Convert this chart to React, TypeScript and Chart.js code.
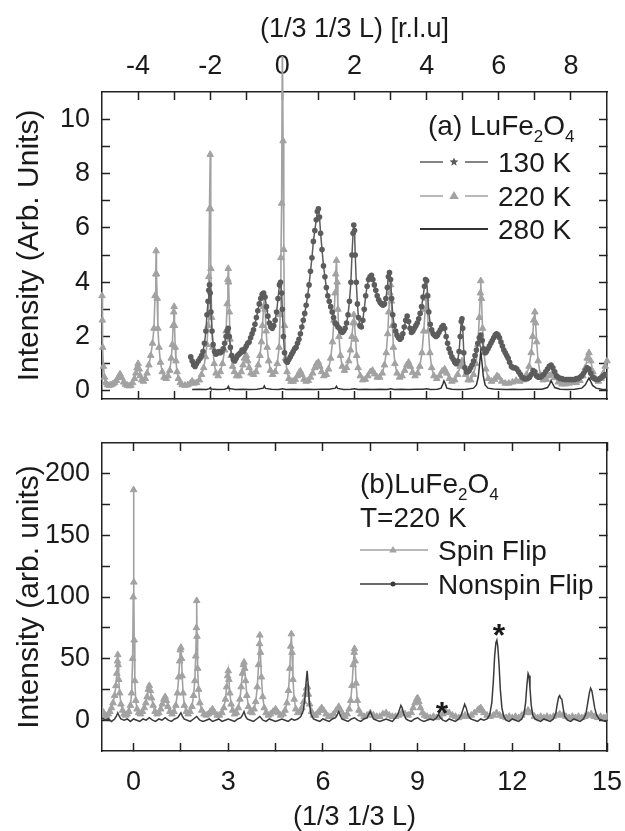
import React, { useEffect, useRef } from 'react';
import { Chart, registerables } from 'chart.js';

Chart.register(...registerables);

type P = [number, number];

// ---------- Panel (a): intensity vs (1/3 1/3 L) ----------
const S130: P[] = [
  [-2.54, 1.25], [-2.5, 1.1], [-2.46, 0.95], [-2.42, 0.9], [-2.38, 1.0], [-2.33, 1.1], [-2.28, 1.2], [-2.24, 1.3],
  [-2.2, 1.45], [-2.16, 1.75], [-2.12, 2.2], [-2.09, 2.8], [-2.06, 3.3], [-2.04, 3.7], [-2.02, 3.9], [-2.0, 3.6],
  [-1.98, 2.9], [-1.95, 2.2], [-1.92, 1.7], [-1.88, 1.45], [-1.84, 1.35], [-1.8, 1.4], [-1.76, 1.45], [-1.72, 1.4],
  [-1.68, 1.45], [-1.64, 1.55], [-1.6, 1.75], [-1.56, 2.0], [-1.53, 2.2], [-1.5, 2.3], [-1.47, 2.0], [-1.44, 1.6],
  [-1.4, 1.3], [-1.36, 1.15], [-1.32, 1.1], [-1.28, 1.2], [-1.24, 1.3], [-1.2, 1.35], [-1.16, 1.4], [-1.12, 1.5],
  [-1.08, 1.45], [-1.04, 1.55], [-1.0, 1.65], [-0.96, 1.75], [-0.92, 1.8], [-0.88, 1.95], [-0.84, 2.1], [-0.8, 2.25],
  [-0.76, 2.45], [-0.72, 2.7], [-0.68, 2.95], [-0.64, 3.2], [-0.6, 3.4], [-0.56, 3.55], [-0.52, 3.6], [-0.48, 3.45],
  [-0.44, 3.1], [-0.4, 2.75], [-0.36, 2.5], [-0.32, 2.35], [-0.28, 2.3], [-0.24, 2.4], [-0.2, 2.6], [-0.16, 2.9],
  [-0.12, 3.4], [-0.08, 3.9], [-0.05, 4.0], [-0.02, 3.6], [0.0, 3.0], [0.03, 2.0], [0.06, 1.4], [0.1, 1.1],
  [0.14, 1.05], [0.18, 1.15], [0.22, 1.25], [0.26, 1.35], [0.3, 1.45], [0.34, 1.55], [0.38, 1.6], [0.42, 1.75],
  [0.46, 1.9], [0.5, 2.1], [0.54, 2.35], [0.58, 2.6], [0.62, 2.85], [0.66, 3.15], [0.7, 3.5], [0.74, 3.9],
  [0.78, 4.4], [0.82, 4.9], [0.86, 5.5], [0.9, 5.9], [0.94, 6.3], [0.97, 6.6], [1.0, 6.7], [1.03, 6.4],
  [1.06, 5.8], [1.1, 5.2], [1.14, 4.6], [1.18, 4.2], [1.22, 3.8], [1.26, 3.5], [1.3, 3.3], [1.34, 3.1],
  [1.38, 2.9], [1.42, 2.7], [1.46, 2.5], [1.5, 2.45], [1.54, 2.35], [1.58, 2.3], [1.62, 2.2], [1.66, 2.15],
  [1.7, 2.2], [1.74, 2.3], [1.78, 2.5], [1.82, 2.8], [1.86, 3.3], [1.9, 4.0], [1.93, 5.0], [1.96, 5.8],
  [1.98, 6.1], [2.0, 5.9], [2.02, 5.0], [2.05, 4.0], [2.08, 3.2], [2.11, 2.7], [2.15, 2.4], [2.19, 2.35],
  [2.23, 2.6], [2.27, 3.0], [2.31, 3.5], [2.35, 3.85], [2.39, 4.1], [2.43, 4.2], [2.47, 4.25], [2.51, 4.1],
  [2.55, 3.9], [2.59, 3.7], [2.63, 3.5], [2.67, 3.35], [2.71, 3.25], [2.75, 3.2], [2.79, 3.15], [2.83, 3.2],
  [2.87, 3.4], [2.91, 3.8], [2.94, 4.2], [2.97, 4.35], [3.0, 4.1], [3.03, 3.4], [3.06, 2.8], [3.1, 2.4],
  [3.14, 2.2], [3.18, 2.05], [3.22, 1.95], [3.26, 1.9], [3.3, 1.95], [3.34, 2.1], [3.38, 2.35], [3.42, 2.6],
  [3.46, 2.75], [3.5, 2.55], [3.54, 2.3], [3.58, 2.15], [3.62, 2.2], [3.66, 2.3], [3.7, 2.4], [3.74, 2.5],
  [3.78, 2.65], [3.82, 2.85], [3.86, 3.1], [3.9, 3.45], [3.94, 3.85], [3.97, 4.1], [4.0, 4.05], [4.03, 3.5],
  [4.06, 2.9], [4.1, 2.45], [4.14, 2.25], [4.18, 2.1], [4.22, 2.05], [4.26, 2.0], [4.3, 2.05], [4.34, 2.15],
  [4.38, 2.25], [4.42, 2.35], [4.46, 2.4], [4.5, 2.3], [4.54, 2.0], [4.58, 1.75], [4.62, 1.55], [4.66, 1.4],
  [4.7, 1.25], [4.74, 1.15], [4.78, 1.05], [4.82, 1.0], [4.86, 1.1], [4.9, 1.45], [4.93, 2.0], [4.96, 2.55],
  [4.98, 2.65], [5.0, 2.3], [5.03, 1.4], [5.06, 0.85], [5.1, 0.7], [5.14, 0.7], [5.18, 0.75], [5.22, 0.85],
  [5.26, 0.95], [5.3, 1.1], [5.34, 1.3], [5.38, 1.5], [5.42, 1.75], [5.46, 1.95], [5.5, 2.05], [5.54, 1.85],
  [5.58, 1.55], [5.62, 1.4], [5.66, 1.45], [5.7, 1.55], [5.74, 1.65], [5.78, 1.75], [5.82, 1.85], [5.86, 1.95],
  [5.9, 2.05], [5.94, 2.1], [5.98, 2.05], [6.02, 1.95], [6.06, 1.8], [6.1, 1.65], [6.14, 1.5], [6.18, 1.4],
  [6.22, 1.3], [6.26, 1.2], [6.3, 1.05], [6.35, 0.9], [6.4, 0.85], [6.45, 0.85], [6.5, 0.8], [6.55, 0.7],
  [6.6, 0.6], [6.65, 0.5], [6.7, 0.45], [6.75, 0.45], [6.8, 0.45], [6.85, 0.5], [6.9, 0.6], [6.95, 0.75],
  [7.0, 0.7], [7.05, 0.55], [7.1, 0.5], [7.15, 0.5], [7.2, 0.55], [7.25, 0.6], [7.3, 0.7], [7.35, 0.8],
  [7.4, 0.9], [7.45, 0.95], [7.5, 0.85], [7.55, 0.7], [7.6, 0.55], [7.65, 0.5], [7.7, 0.45], [7.75, 0.45],
  [7.8, 0.42], [7.85, 0.42], [7.9, 0.42], [7.95, 0.42], [8.0, 0.42], [8.05, 0.42], [8.1, 0.42], [8.15, 0.45],
  [8.2, 0.45], [8.25, 0.5], [8.3, 0.55], [8.35, 0.65], [8.4, 0.75], [8.45, 0.85], [8.5, 0.8], [8.55, 0.65],
  [8.6, 0.5], [8.65, 0.45], [8.7, 0.42], [8.75, 0.42], [8.8, 0.45], [8.85, 0.5], [8.9, 0.55], [8.95, 0.6],
  [9.0, 0.6],
];

const S220: P[] = [
  [-5.0, 3.5], [-4.99, 2.6], [-4.98, 1.6], [-4.96, 0.9], [-4.93, 0.5], [-4.9, 0.3], [-4.85, 0.22], [-4.8, 0.2],
  [-4.75, 0.22], [-4.7, 0.25], [-4.65, 0.3], [-4.6, 0.38], [-4.55, 0.5], [-4.5, 0.62], [-4.45, 0.48], [-4.4, 0.32],
  [-4.35, 0.24], [-4.3, 0.2], [-4.25, 0.18], [-4.2, 0.2], [-4.15, 0.3], [-4.1, 0.45], [-4.06, 0.65], [-4.03, 0.85],
  [-4.0, 1.0], [-3.97, 0.8], [-3.94, 0.55], [-3.9, 0.4], [-3.85, 0.35], [-3.8, 0.45], [-3.75, 0.65], [-3.7, 0.95],
  [-3.65, 1.3], [-3.6, 1.75], [-3.56, 2.3], [-3.53, 3.5], [-3.51, 4.3], [-3.5, 5.15], [-3.49, 4.3], [-3.47, 3.4],
  [-3.45, 2.3], [-3.42, 1.6], [-3.38, 1.05], [-3.33, 0.7], [-3.28, 0.5], [-3.22, 0.45], [-3.17, 0.55], [-3.12, 0.75],
  [-3.08, 1.2], [-3.05, 1.7], [-3.03, 2.4], [-3.01, 2.9], [-3.0, 3.1], [-2.99, 2.4], [-2.97, 1.6], [-2.95, 1.1],
  [-2.92, 0.7], [-2.88, 0.45], [-2.83, 0.3], [-2.78, 0.22], [-2.7, 0.2], [-2.62, 0.22], [-2.55, 0.28], [-2.5, 0.35],
  [-2.45, 0.28], [-2.38, 0.3], [-2.3, 0.4], [-2.24, 0.6], [-2.18, 0.85], [-2.13, 1.25], [-2.09, 1.7], [-2.06, 2.4],
  [-2.04, 4.2], [-2.02, 6.7], [-2.0, 8.7], [-1.99, 6.7], [-1.98, 4.5], [-1.96, 2.7], [-1.93, 1.6], [-1.89, 1.0],
  [-1.84, 0.65], [-1.78, 0.55], [-1.72, 0.7], [-1.66, 1.0], [-1.6, 1.5], [-1.56, 2.2], [-1.53, 3.2], [-1.51, 4.1],
  [-1.5, 4.5], [-1.49, 4.0], [-1.47, 2.9], [-1.45, 1.9], [-1.42, 1.3], [-1.38, 0.9], [-1.33, 0.7], [-1.27, 0.55],
  [-1.2, 0.55], [-1.14, 0.7], [-1.09, 0.95], [-1.05, 1.2], [-1.0, 1.3], [-0.96, 1.1], [-0.92, 0.85], [-0.87, 0.65],
  [-0.8, 0.6], [-0.73, 0.7], [-0.67, 0.95], [-0.62, 1.3], [-0.58, 1.8], [-0.55, 2.4], [-0.52, 3.1], [-0.5, 3.5],
  [-0.48, 3.0], [-0.45, 2.2], [-0.42, 1.6], [-0.38, 1.1], [-0.33, 0.75], [-0.27, 0.6], [-0.2, 0.7], [-0.14, 1.0],
  [-0.09, 1.6], [-0.06, 2.8], [-0.04, 4.9], [-0.02, 6.9], [0.0, 13.0], [0.02, 9.2], [0.04, 5.2], [0.06, 2.4],
  [0.09, 1.2], [0.13, 0.7], [0.18, 0.45], [0.24, 0.35], [0.3, 0.35], [0.36, 0.42], [0.42, 0.55], [0.47, 0.68],
  [0.5, 0.72], [0.54, 0.6], [0.6, 0.42], [0.66, 0.35], [0.72, 0.38], [0.78, 0.5], [0.84, 0.65], [0.9, 0.85],
  [0.95, 1.0], [1.0, 1.05], [1.04, 0.9], [1.09, 0.7], [1.15, 0.55], [1.22, 0.6], [1.28, 0.8], [1.34, 1.2],
  [1.39, 1.8], [1.43, 2.6], [1.46, 3.6], [1.48, 4.3], [1.5, 4.8], [1.52, 4.0], [1.54, 3.0], [1.57, 2.0],
  [1.61, 1.3], [1.66, 0.9], [1.72, 0.75], [1.78, 0.85], [1.84, 1.1], [1.89, 1.5], [1.93, 2.0], [1.96, 2.5],
  [1.98, 2.8], [2.0, 2.5], [2.03, 1.9], [2.06, 1.3], [2.1, 0.85], [2.16, 0.55], [2.23, 0.4], [2.3, 0.42],
  [2.37, 0.55], [2.44, 0.7], [2.5, 0.75], [2.56, 0.62], [2.63, 0.5], [2.7, 0.5], [2.77, 0.65], [2.83, 0.95],
  [2.88, 1.4], [2.92, 2.1], [2.95, 2.9], [2.98, 3.6], [3.0, 3.9], [3.02, 3.3], [3.05, 2.4], [3.08, 1.6],
  [3.12, 1.0], [3.18, 0.65], [3.25, 0.5], [3.32, 0.55], [3.39, 0.75], [3.45, 0.95], [3.5, 1.05], [3.55, 0.9],
  [3.61, 0.68], [3.68, 0.55], [3.75, 0.65], [3.81, 0.9], [3.87, 1.4], [3.92, 2.2], [3.96, 3.0], [3.98, 3.4],
  [4.0, 3.5], [4.02, 3.0], [4.05, 2.2], [4.09, 1.4], [4.14, 0.85], [4.2, 0.55], [4.28, 0.45], [4.36, 0.55],
  [4.43, 0.72], [4.5, 0.8], [4.56, 0.65], [4.63, 0.45], [4.7, 0.35], [4.78, 0.4], [4.86, 0.6], [4.93, 0.9],
  [4.98, 1.1], [5.02, 0.95], [5.08, 0.6], [5.15, 0.4], [5.22, 0.4], [5.3, 0.6], [5.37, 1.0], [5.42, 1.7],
  [5.46, 2.7], [5.49, 3.6], [5.5, 4.05], [5.52, 3.4], [5.55, 2.3], [5.59, 1.4], [5.64, 0.8], [5.71, 0.45],
  [5.8, 0.35], [5.88, 0.42], [5.95, 0.55], [6.0, 0.5], [6.08, 0.35], [6.18, 0.28], [6.28, 0.28], [6.38, 0.32],
  [6.48, 0.38], [6.58, 0.35], [6.68, 0.4], [6.77, 0.6], [6.84, 0.9], [6.9, 1.4], [6.94, 2.0], [6.97, 2.6],
  [7.0, 2.9], [7.02, 2.5], [7.05, 1.8], [7.09, 1.1], [7.15, 0.6], [7.23, 0.4], [7.32, 0.42], [7.4, 0.55],
  [7.47, 0.62], [7.55, 0.48], [7.65, 0.32], [7.75, 0.25], [7.85, 0.25], [7.95, 0.28], [8.05, 0.3], [8.15, 0.3],
  [8.25, 0.38], [8.33, 0.55], [8.4, 0.85], [8.45, 1.2], [8.5, 1.4], [8.55, 1.1], [8.61, 0.7], [8.68, 0.45],
  [8.76, 0.35], [8.84, 0.45], [8.9, 0.65], [8.95, 0.9], [9.0, 1.1],
];

const S280: P[] = [
  [-2.5, 0.05], [-2.3, 0.06], [-2.1, 0.05], [-2.02, 0.08], [-2.0, 0.12], [-1.98, 0.07], [-1.8, 0.05], [-1.6, 0.06],
  [-1.52, 0.1], [-1.5, 0.16], [-1.48, 0.09], [-1.3, 0.05], [-1.1, 0.06], [-0.9, 0.05], [-0.7, 0.06], [-0.53, 0.1],
  [-0.5, 0.18], [-0.47, 0.09], [-0.3, 0.06], [-0.1, 0.05], [0.0, 0.08], [0.1, 0.05], [0.3, 0.06], [0.5, 0.05],
  [0.7, 0.06], [0.9, 0.05], [1.1, 0.06], [1.3, 0.06], [1.47, 0.1], [1.5, 0.17], [1.53, 0.09], [1.7, 0.05],
  [1.9, 0.06], [2.0, 0.08], [2.1, 0.05], [2.3, 0.06], [2.5, 0.05], [2.7, 0.06], [2.9, 0.05], [3.0, 0.08],
  [3.1, 0.05], [3.3, 0.06], [3.5, 0.05], [3.7, 0.06], [3.9, 0.06], [4.0, 0.08], [4.1, 0.05], [4.3, 0.06],
  [4.4, 0.1], [4.45, 0.25], [4.48, 0.37], [4.52, 0.25], [4.56, 0.1], [4.7, 0.06], [4.9, 0.05], [5.1, 0.06],
  [5.3, 0.1], [5.38, 0.22], [5.43, 0.5], [5.47, 1.0], [5.5, 1.45], [5.53, 1.1], [5.57, 0.55], [5.62, 0.22],
  [5.7, 0.1], [5.85, 0.07], [6.0, 0.06], [6.2, 0.05], [6.4, 0.06], [6.6, 0.05], [6.8, 0.06], [7.0, 0.06],
  [7.2, 0.06], [7.35, 0.12], [7.41, 0.25], [7.45, 0.38], [7.49, 0.27], [7.55, 0.12], [7.7, 0.06], [7.9, 0.05],
  [8.1, 0.06], [8.3, 0.1], [8.4, 0.22], [8.46, 0.38], [8.5, 0.47], [8.54, 0.37], [8.6, 0.2], [8.7, 0.1],
  [8.85, 0.06], [9.0, 0.05],
];

// ---------- Panel (b): T = 220 K, polarized ----------
const SPIN: P[] = [
  [-1.0, 8], [-0.95, 6], [-0.9, 4], [-0.85, 3], [-0.8, 5], [-0.75, 7], [-0.7, 10], [-0.65, 14],
  [-0.6, 20], [-0.56, 28], [-0.53, 38], [-0.51, 48], [-0.5, 53], [-0.49, 45], [-0.47, 33], [-0.44, 22],
  [-0.4, 13], [-0.35, 8], [-0.3, 5], [-0.25, 4], [-0.2, 5], [-0.15, 7], [-0.1, 12], [-0.06, 22],
  [-0.03, 50], [-0.01, 100], [0.0, 187], [0.01, 112], [0.02, 65], [0.04, 32], [0.07, 16], [0.11, 9],
  [0.16, 6], [0.22, 5], [0.28, 7], [0.34, 10], [0.39, 14], [0.43, 19], [0.47, 25], [0.5, 28],
  [0.53, 24], [0.57, 18], [0.62, 12], [0.68, 7], [0.74, 5], [0.8, 6], [0.86, 9], [0.91, 13],
  [0.96, 17], [1.0, 19], [1.04, 16], [1.09, 11], [1.15, 7], [1.22, 5], [1.28, 7], [1.34, 12],
  [1.39, 22], [1.43, 35], [1.46, 48], [1.48, 57], [1.5, 59], [1.52, 50], [1.54, 36], [1.57, 22],
  [1.61, 12], [1.67, 7], [1.73, 5], [1.79, 7], [1.85, 11], [1.9, 20], [1.94, 32], [1.97, 52],
  [1.99, 75], [2.0, 97], [2.01, 68], [2.03, 42], [2.06, 25], [2.1, 14], [2.16, 8], [2.23, 5],
  [2.3, 4], [2.37, 5], [2.43, 7], [2.5, 9], [2.57, 6], [2.65, 4], [2.72, 4], [2.8, 6],
  [2.86, 10], [2.91, 17], [2.95, 27], [2.98, 36], [3.0, 40], [3.02, 33], [3.05, 22], [3.09, 13],
  [3.14, 8], [3.2, 5], [3.26, 6], [3.32, 10], [3.37, 17], [3.41, 27], [3.45, 38], [3.48, 45],
  [3.5, 47], [3.52, 42], [3.55, 32], [3.59, 20], [3.64, 11], [3.7, 7], [3.76, 6], [3.82, 9],
  [3.87, 15], [3.92, 27], [3.96, 45], [3.99, 62], [4.0, 69], [4.02, 55], [4.05, 35], [4.09, 19],
  [4.14, 10], [4.2, 6], [4.27, 4], [4.34, 5], [4.42, 7], [4.5, 9], [4.58, 6], [4.66, 4],
  [4.74, 5], [4.8, 8], [4.86, 14], [4.91, 24], [4.95, 42], [4.98, 60], [5.0, 70], [5.02, 55],
  [5.05, 33], [5.09, 17], [5.14, 9], [5.2, 6], [5.27, 7], [5.33, 10], [5.39, 15], [5.44, 21],
  [5.48, 26], [5.51, 27], [5.54, 21], [5.58, 13], [5.64, 7], [5.7, 4], [5.77, 4], [5.84, 6],
  [5.9, 8], [5.96, 10], [6.02, 8], [6.1, 5], [6.18, 3], [6.26, 3], [6.34, 5], [6.42, 8],
  [6.5, 11], [6.56, 8], [6.63, 5], [6.7, 3], [6.77, 5], [6.83, 9], [6.88, 16], [6.92, 28],
  [6.96, 45], [6.99, 55], [7.0, 58], [7.02, 48], [7.05, 30], [7.09, 16], [7.14, 8], [7.2, 5],
  [7.3, 3], [7.4, 4], [7.5, 6], [7.6, 4], [7.7, 3], [7.8, 3], [7.9, 5], [8.0, 6],
  [8.1, 4], [8.2, 3], [8.3, 3], [8.4, 4], [8.5, 6], [8.6, 5], [8.7, 4], [8.8, 6],
  [8.86, 10], [8.92, 14], [8.97, 17], [9.0, 18], [9.04, 15], [9.09, 10], [9.15, 6], [9.22, 4],
  [9.3, 3], [9.4, 2], [9.5, 3], [9.6, 2], [9.7, 3], [9.8, 5], [9.9, 7], [10.0, 6],
  [10.1, 4], [10.2, 3], [10.3, 2], [10.4, 3], [10.5, 4], [10.6, 3], [10.7, 4], [10.8, 6],
  [10.9, 8], [10.95, 9], [11.0, 10], [11.05, 8], [11.1, 6], [11.2, 4], [11.3, 3], [11.4, 4],
  [11.5, 6], [11.6, 4], [11.7, 3], [11.8, 2], [11.9, 3], [12.0, 2], [12.1, 3], [12.2, 2],
  [12.3, 4], [12.4, 6], [12.5, 8], [12.6, 6], [12.7, 3], [12.8, 2], [12.9, 3], [13.0, 2],
  [13.1, 3], [13.2, 2], [13.3, 3], [13.4, 4], [13.5, 5], [13.6, 4], [13.7, 3], [13.8, 2],
  [13.9, 3], [14.0, 2], [14.1, 3], [14.2, 2], [14.3, 3], [14.4, 4], [14.5, 5], [14.6, 3],
  [14.7, 2], [14.8, 3], [14.9, 2], [15.0, 3],
];

const NONSPIN: P[] = [
  [-1.0, 2], [-0.9, 0], [-0.8, 1], [-0.7, -1], [-0.6, 1], [-0.55, 3], [-0.5, 6], [-0.45, 3],
  [-0.4, 1], [-0.3, 0], [-0.2, 1], [-0.1, -1], [0.0, 1], [0.1, 0], [0.2, -1], [0.3, 1],
  [0.4, 0], [0.5, 2], [0.6, 0], [0.7, -1], [0.8, 1], [0.9, 0], [1.0, 2], [1.1, 0],
  [1.2, -1], [1.3, 1], [1.4, 2], [1.45, 4], [1.5, 6], [1.55, 3], [1.6, 1], [1.7, 0],
  [1.8, -1], [1.9, 1], [2.0, 3], [2.1, 0], [2.2, -1], [2.3, 0], [2.4, 1], [2.5, -1],
  [2.6, 0], [2.7, 1], [2.8, -1], [2.9, 0], [3.0, 1], [3.1, 0], [3.2, -1], [3.3, 1],
  [3.4, 2], [3.45, 4], [3.5, 7], [3.55, 3], [3.6, 1], [3.7, 0], [3.8, -1], [3.9, 1],
  [4.0, 3], [4.1, 0], [4.2, -1], [4.3, 1], [4.4, 0], [4.5, -1], [4.6, 0], [4.7, 1],
  [4.8, 0], [4.9, -1], [5.0, 1], [5.1, 0], [5.2, 1], [5.3, 3], [5.38, 8], [5.43, 18],
  [5.47, 32], [5.5, 40], [5.53, 30], [5.57, 14], [5.62, 5], [5.7, 1], [5.8, 0], [5.9, -1],
  [6.0, 1], [6.1, 0], [6.2, -1], [6.3, 1], [6.4, 2], [6.45, 4], [6.5, 7], [6.55, 4],
  [6.6, 1], [6.7, 0], [6.8, -1], [6.9, 1], [7.0, 2], [7.1, 0], [7.2, -1], [7.3, 1],
  [7.4, 2], [7.45, 5], [7.5, 7], [7.55, 4], [7.6, 1], [7.7, 0], [7.8, -1], [7.9, 0],
  [8.0, 1], [8.1, 0], [8.2, -1], [8.3, 2], [8.38, 5], [8.43, 9], [8.47, 12], [8.51, 10],
  [8.56, 5], [8.63, 1], [8.7, 0], [8.8, -1], [8.9, 1], [9.0, 2], [9.1, 0], [9.2, -1],
  [9.3, 0], [9.4, 1], [9.5, 0], [9.6, 2], [9.66, 5], [9.72, 2], [9.8, 0], [9.9, -1],
  [10.0, 1], [10.1, 0], [10.2, -1], [10.3, 1], [10.38, 4], [10.44, 9], [10.49, 13], [10.54, 10],
  [10.6, 4], [10.68, 1], [10.8, 0], [10.9, -1], [11.0, 1], [11.1, 0], [11.2, 1], [11.28, 4],
  [11.35, 14], [11.4, 32], [11.44, 52], [11.48, 63], [11.51, 65], [11.54, 60], [11.58, 45], [11.62, 25],
  [11.67, 10], [11.73, 3], [11.8, 0], [11.9, -1], [12.0, 1], [12.1, 0], [12.2, -1], [12.3, 1],
  [12.37, 5], [12.42, 14], [12.46, 28], [12.5, 38], [12.53, 36], [12.56, 26], [12.6, 12], [12.65, 4],
  [12.72, 1], [12.8, 0], [12.9, -1], [13.0, 1], [13.1, 0], [13.2, -1], [13.3, 1], [13.38, 6],
  [13.43, 14], [13.47, 19], [13.5, 20], [13.53, 18], [13.57, 17], [13.61, 10], [13.66, 3], [13.75, 0],
  [13.85, -1], [13.95, 1], [14.05, 0], [14.15, -1], [14.25, 1], [14.33, 5], [14.39, 14], [14.44, 22],
  [14.48, 26], [14.52, 24], [14.56, 18], [14.61, 10], [14.67, 4], [14.75, 1], [14.85, 0], [14.95, -1],
  [15.0, 0],
];

// Annotation "*" marks in panel (b): L position and intensity of the mark centre
const STAR_L = [9.77, 11.58];
const STAR_I = [11, 74];

// Ticks
const TOP_X_TICKS = [-4, -3, -2, -1, 0, 1, 2, 3, 4, 5, 6, 7, 8];
const TOP_X_LABELS = [-4, -2, 0, 2, 4, 6, 8];
const TOP_Y_TICKS = [0, 1, 2, 3, 4, 5, 6, 7, 8, 9, 10];
const TOP_Y_LABELS = [0, 2, 4, 6, 8, 10];
const BOT_X_TICKS = [0, 1.5, 3, 4.5, 6, 7.5, 9, 10.5, 12, 13.5, 15];
const BOT_X_LABELS = [0, 3, 6, 9, 12, 15];
const BOT_Y_TICKS = [0, 25, 50, 75, 100, 125, 150, 175, 200];
const BOT_Y_LABELS = [0, 50, 100, 150, 200];

const FONT = "'Liberation Sans', Arial, Helvetica, sans-serif";
const INK = '#1a1a1a';
const AXIS = '#222222';
const LIGHT = '#a2a2a2';
const DARK130 = '#5c5c5c';
const DARK280 = '#333333';
const DARKNS = '#3a3a3a';

const pts = (a: P[]) => a.map(([x, y]) => ({ x, y }));

function makeAxis(o: {
  position: 'top' | 'bottom' | 'left' | 'right';
  min: number;
  max: number;
  ticks: number[];
  labels?: number[];
  size: number;
  labelPad?: number;
  title?: string;
  titleSize?: number;
  titlePad?: { top: number; bottom: number };
}) {
  const vertical = o.position === 'left' || o.position === 'right';
  return {
    type: 'linear',
    position: o.position,
    min: o.min,
    max: o.max,
    afterBuildTicks: (s: any) => {
      s.ticks = o.ticks.map((v) => ({ value: v }));
    },
    afterFit: (s: any) => {
      if (vertical) s.width = o.size;
      else s.height = o.size;
      s.paddingLeft = 0;
      s.paddingRight = 0;
      s.paddingTop = 0;
      s.paddingBottom = 0;
    },
    ticks: {
      display: !!o.labels,
      autoSkip: false,
      maxRotation: 0,
      minRotation: 0,
      padding: o.labelPad ?? 0,
      color: INK,
      font: { family: FONT, size: 27, lineHeight: 1 },
      callback: (v: number) =>
        o.labels && o.labels.some((l) => Math.abs(l - v) < 1e-9) ? String(v) : '',
    },
    grid: {
      display: true,
      drawOnChartArea: false,
      drawTicks: true,
      tickLength: -8,
      tickColor: AXIS,
      tickWidth: 1.5,
    },
    border: { display: true, color: AXIS, width: 1.5 },
    title: o.title
      ? {
          display: true,
          text: o.title,
          color: INK,
          font: { family: FONT, size: o.titleSize ?? 27, lineHeight: 1 },
          padding: o.titlePad ?? { top: 0, bottom: 0 },
        }
      : { display: false },
  };
}

function drawRich(ctx: CanvasRenderingContext2D, parts: [string, boolean][], x: number, y: number, size: number) {
  let cx = x;
  ctx.textAlign = 'left';
  ctx.textBaseline = 'alphabetic';
  for (const [t, sub] of parts) {
    const s = sub ? Math.round(size * 0.62) : size;
    ctx.font = `${s}px ${FONT}`;
    ctx.fillText(t, cx, sub ? y + size * 0.26 : y);
    cx += ctx.measureText(t).width;
  }
}

function starPath(ctx: CanvasRenderingContext2D, cx: number, cy: number, r: number) {
  ctx.beginPath();
  for (let i = 0; i < 10; i++) {
    const rr = i % 2 === 0 ? r : r * 0.45;
    const a = -Math.PI / 2 + (i * Math.PI) / 5;
    const px = cx + rr * Math.cos(a);
    const py = cy + rr * Math.sin(a);
    if (i === 0) ctx.moveTo(px, py);
    else ctx.lineTo(px, py);
  }
  ctx.closePath();
}

function triPath(ctx: CanvasRenderingContext2D, cx: number, cy: number, r: number) {
  ctx.beginPath();
  ctx.moveTo(cx, cy - r);
  ctx.lineTo(cx + r * 0.95, cy + r * 0.6);
  ctx.lineTo(cx - r * 0.95, cy + r * 0.6);
  ctx.closePath();
}

const legendTop = {
  id: 'legendTop',
  afterDraw(chart: any) {
    const ctx: CanvasRenderingContext2D = chart.ctx;
    ctx.save();
    ctx.fillStyle = INK;
    drawRich(ctx, [['(a) LuFe', false], ['2', true], ['O', false], ['4', true]], 428, 135, 28);
    const rows: { y: number; label: string; kind: string }[] = [
      { y: 162, label: '130 K', kind: 'star' },
      { y: 196, label: '220 K', kind: 'tri' },
      { y: 229, label: '280 K', kind: 'solid' },
    ];
    for (const r of rows) {
      ctx.lineWidth = r.kind === 'solid' ? 2 : 1.5;
      if (r.kind === 'solid') {
        ctx.strokeStyle = DARK280;
        ctx.beginPath();
        ctx.moveTo(420, r.y);
        ctx.lineTo(488, r.y);
        ctx.stroke();
      } else {
        const col = r.kind === 'star' ? DARK130 : LIGHT;
        ctx.strokeStyle = col;
        ctx.fillStyle = col;
        ctx.beginPath();
        ctx.moveTo(420, r.y);
        ctx.lineTo(443, r.y);
        ctx.moveTo(465, r.y);
        ctx.lineTo(488, r.y);
        ctx.stroke();
        if (r.kind === 'star') starPath(ctx, 454, r.y, 4.5);
        else triPath(ctx, 454, r.y, 5);
        ctx.fill();
      }
      ctx.fillStyle = INK;
      ctx.font = `28px ${FONT}`;
      ctx.textAlign = 'left';
      ctx.textBaseline = 'alphabetic';
      ctx.fillText(r.label, 498, r.y + 10);
    }
    ctx.restore();
  },
};

const legendBottom = {
  id: 'legendBottom',
  afterDraw(chart: any) {
    const ctx: CanvasRenderingContext2D = chart.ctx;
    ctx.save();
    ctx.fillStyle = INK;
    drawRich(ctx, [['(b)LuFe', false], ['2', true], ['O', false], ['4', true]], 360, 78, 28);
    ctx.font = `28px ${FONT}`;
    ctx.fillText('T=220 K', 360, 112);
    // Spin flip sample
    ctx.strokeStyle = LIGHT;
    ctx.fillStyle = LIGHT;
    ctx.lineWidth = 1.5;
    ctx.beginPath();
    ctx.moveTo(360, 135);
    ctx.lineTo(428, 135);
    ctx.stroke();
    triPath(ctx, 393, 135, 4);
    ctx.fill();
    // Nonspin sample
    ctx.strokeStyle = DARKNS;
    ctx.fillStyle = DARKNS;
    ctx.beginPath();
    ctx.moveTo(360, 169);
    ctx.lineTo(428, 169);
    ctx.stroke();
    ctx.beginPath();
    ctx.arc(393, 169, 2.5, 0, Math.PI * 2);
    ctx.fill();
    ctx.fillStyle = INK;
    ctx.font = `28px ${FONT}`;
    ctx.fillText('Spin Flip', 438, 145);
    ctx.fillText('Nonspin Flip', 438, 179);
    // "*" marks
    const xs = chart.scales.x;
    const ys = chart.scales.y;
    ctx.font = `bold 32px ${FONT}`;
    ctx.textAlign = 'center';
    ctx.textBaseline = 'alphabetic';
    for (let i = 0; i < STAR_L.length; i++) {
      const px = xs.getPixelForValue(STAR_L[i]);
      const py = ys.getPixelForValue(STAR_I[i]);
      ctx.fillText('*', px, py + 17);
    }
    ctx.restore();
  },
};

export default function App() {
  const topRef = useRef<HTMLCanvasElement>(null);
  const botRef = useRef<HTMLCanvasElement>(null);

  useEffect(() => {
    const common = {
      responsive: false,
      maintainAspectRatio: false,
      animation: false,
      devicePixelRatio: 1,
      events: [],
      layout: { padding: 0, autoPadding: false },
      plugins: { legend: { display: false }, tooltip: { enabled: false } },
    };

    const top = new Chart(topRef.current as HTMLCanvasElement, {
      type: 'line',
      data: {
        datasets: [
          {
            label: '280 K',
            data: pts(S280),
            borderColor: DARK280,
            borderWidth: 1.5,
            pointRadius: 0,
            order: 0,
          },
          {
            label: '130 K',
            data: pts(S130),
            borderColor: DARK130,
            backgroundColor: DARK130,
            borderWidth: 1.5,
            pointStyle: 'circle',
            pointRadius: 2.8,
            pointBorderWidth: 0,
            order: 1,
          },
          {
            label: '220 K',
            data: pts(S220),
            borderColor: LIGHT,
            backgroundColor: LIGHT,
            borderWidth: 1.6,
            pointStyle: 'triangle',
            pointRadius: 3.8,
            pointBorderWidth: 1,
            pointBorderColor: LIGHT,
            order: 2,
            clip: { left: 6, top: 36, right: 6, bottom: 6 },
          },
        ],
      },
      options: {
        ...common,
        scales: {
          x: makeAxis({
            position: 'top', min: -5, max: 9, ticks: TOP_X_TICKS, labels: TOP_X_LABELS, size: 92,
            labelPad: 20, title: '(1/3 1/3 L) [r.l.u]', titleSize: 27, titlePad: { top: 16.5, bottom: 0 },
          }),
          x2: makeAxis({ position: 'bottom', min: -5, max: 9, ticks: TOP_X_TICKS, size: 16 }),
          y: makeAxis({
            position: 'left', min: -0.3, max: 11, ticks: TOP_Y_TICKS, labels: TOP_Y_LABELS, size: 102,
            labelPad: 20, title: 'Intensity (Arb. Units)', titleSize: 30, titlePad: { top: 15, bottom: 0 },
          }),
          y2: makeAxis({ position: 'right', min: -0.3, max: 11, ticks: TOP_Y_TICKS, size: 18 }),
        },
      },
      plugins: [legendTop],
    } as any);

    const bot = new Chart(botRef.current as HTMLCanvasElement, {
      type: 'line',
      data: {
        datasets: [
          {
            label: 'Nonspin Flip',
            data: pts(NONSPIN),
            borderColor: DARKNS,
            borderWidth: 1.5,
            pointRadius: 0,
            order: 0,
          },
          {
            label: 'Spin Flip',
            data: pts(SPIN),
            borderColor: LIGHT,
            backgroundColor: LIGHT,
            borderWidth: 1.6,
            pointStyle: 'triangle',
            pointRadius: 3.8,
            pointBorderWidth: 1,
            pointBorderColor: LIGHT,
            order: 1,
          },
        ],
      },
      options: {
        ...common,
        scales: {
          x: makeAxis({
            position: 'bottom', min: -1, max: 15, ticks: BOT_X_TICKS, labels: BOT_X_LABELS, size: 80,
            labelPad: 26, title: '(1/3 1/3 L)', titleSize: 27, titlePad: { top: 0, bottom: 0 },
          }),
          x2: makeAxis({ position: 'top', min: -1, max: 15, ticks: BOT_X_TICKS, size: 28 }),
          y: makeAxis({
            position: 'left', min: -25, max: 225, ticks: BOT_Y_TICKS, labels: BOT_Y_LABELS, size: 102,
            labelPad: 20, title: 'Intensity (arb. units)', titleSize: 30, titlePad: { top: 15, bottom: 0 },
          }),
          y2: makeAxis({ position: 'right', min: -25, max: 225, ticks: BOT_Y_TICKS, size: 18 }),
        },
      },
      plugins: [legendBottom],
    } as any);

    return () => {
      top.destroy();
      bot.destroy();
    };
  }, []);

  return (
    <div style={{ position: 'fixed', left: 0, top: 0, width: 625, height: 831, background: '#ffffff' }}>
      <canvas
        ref={topRef}
        width={625}
        height={415}
        style={{ position: 'absolute', left: 0, top: 0, width: 625, height: 415 }}
      />
      <canvas
        ref={botRef}
        width={625}
        height={416}
        style={{ position: 'absolute', left: 0, top: 415, width: 625, height: 416 }}
      />
    </div>
  );
}
